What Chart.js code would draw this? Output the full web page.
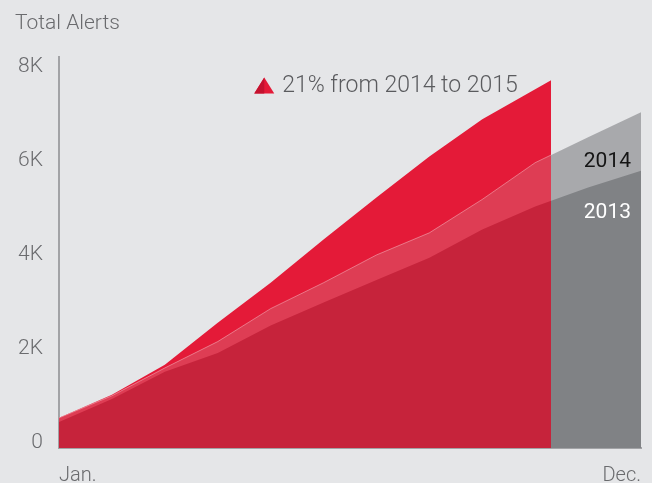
<!DOCTYPE html>
<html>
<head>
<meta charset="utf-8">
<script src="https://cdn.jsdelivr.net/npm/chart.js@4.4.1/dist/chart.umd.min.js"></script>
<style>
html, body { margin: 0; padding: 0; background: #e5e6e8; }
#wrap { width: 652px; height: 483px; position: relative; }
canvas { display: block; }
</style>
</head>
<body>
<div id="wrap"><canvas id="c" width="652" height="483"></canvas></div>
<script>
// ---- Data ----
const months = ['Jan.', 'Feb.', 'Mar.', 'Apr.', 'May', 'Jun.', 'Jul.', 'Aug.', 'Sep.', 'Oct.', 'Nov.', 'Dec.'];
const alerts2013 = [550, 1040, 1620, 2020, 2600, 3090, 3570, 4040, 4640, 5130, 5530, 5890];
const alerts2014 = [640, 1110, 1700, 2260, 2960, 3510, 4100, 4570, 5280, 6060, 6600, 7130];
// 2015 data runs to early October (month index 9.3)
const months2015 = [0, 1, 2, 3, 4, 5, 6, 7, 8, 9.3];
const alerts2015 = [640, 1130, 1770, 2660, 3510, 4430, 5320, 6190, 6980, 7810];
const yTickValues = [0, 2000, 4000, 6000, 8000];
const yTickLabels = ['0', '2K', '4K', '6K', '8K'];
const xTickValues = [0, 11];
const seriesNames = ['2013', '2014', '2015'];
const titleText = 'Total Alerts';
const noteText = '21% from 2014 to 2015';

// ---- Styles ----
const FONT = 'Roboto, "Open Sans", sans-serif';
const TEXT_GRAY = '#6a6b6e';
const AXIS_GRAY = '#a2a3a6';
const RED_2015 = '#e41a38';
const RED_2014 = '#de3d54';
const RED_2013 = '#c6233b';
const GRAY_2014 = '#a8a9ac';
const GRAY_2013 = '#808285';

const xy = (xs, ys) => ys.map((v, i) => ({ x: xs[i], y: v }));
const monthIdx = months.map((m, i) => i);
const end2015 = months2015[months2015.length - 1];

function splitColor(left, right) {
  return (context) => {
    const chart = context.chart;
    const area = chart.chartArea;
    if (!area || !chart.scales.x) return left;
    const xEnd = chart.scales.x.getPixelForValue(end2015);
    let f = (xEnd - area.left) / (area.right - area.left);
    f = Math.min(1, Math.max(0, f));
    const g = chart.ctx.createLinearGradient(area.left, 0, area.right, 0);
    g.addColorStop(0, left);
    g.addColorStop(f, left);
    g.addColorStop(f, right);
    g.addColorStop(1, right);
    return g;
  };
}

const annotations = {
  id: 'annotations',
  afterDatasetsDraw(chart) {
    const { ctx, chartArea: area, scales: { x, y } } = chart;
    ctx.save();
    // year labels at right
    ctx.font = '400 21px ' + FONT;
    ctx.textAlign = 'right';
    ctx.textBaseline = 'middle';
    ctx.fillStyle = '#151515';
    ctx.fillText(seriesNames[1], area.right - 10, y.getPixelForValue(6070));
    ctx.fillStyle = '#ffffff';
    ctx.fillText(seriesNames[0], area.right - 10, y.getPixelForValue(5000));
    // growth note with two-tone triangle
    const tx = x.getPixelForValue(3.69);
    const ty = y.getPixelForValue(7700);
    ctx.beginPath();
    ctx.moveTo(tx, ty + 8); ctx.lineTo(tx + 10, ty - 8); ctx.lineTo(tx + 20, ty + 8); ctx.closePath();
    ctx.fillStyle = RED_2015; ctx.fill();
    ctx.beginPath();
    ctx.moveTo(tx, ty + 8); ctx.lineTo(tx + 10, ty - 8); ctx.lineTo(tx + 10, ty + 8); ctx.closePath();
    ctx.fillStyle = '#c4122f'; ctx.fill();
    ctx.font = '300 23px ' + FONT;
    ctx.textAlign = 'left';
    ctx.fillStyle = '#5a5b5e';
    ctx.fillText(noteText, tx + 28, ty + 1);
    ctx.restore();
  }
};

new Chart(document.getElementById('c'), {
  type: 'line',
  data: {
    datasets: [
      {
        label: seriesNames[0],
        data: xy(monthIdx, alerts2013),
        order: 1,
        fill: 'origin',
        backgroundColor: splitColor(RED_2013, GRAY_2013),
        borderWidth: 0,
        pointRadius: 0,
        tension: 0
      },
      {
        label: seriesNames[1],
        data: xy(monthIdx, alerts2014),
        order: 2,
        fill: 'origin',
        backgroundColor: splitColor(RED_2014, GRAY_2014),
        borderColor: splitColor('rgba(255,255,255,0.35)', 'rgba(255,255,255,0)'),
        borderWidth: 1,
        pointRadius: 0,
        tension: 0
      },
      {
        label: seriesNames[2],
        data: xy(months2015, alerts2015),
        order: 3,
        fill: 'origin',
        backgroundColor: RED_2015,
        borderWidth: 0,
        pointRadius: 0,
        tension: 0
      }
    ]
  },
  options: {
    responsive: false,
    animation: false,
    devicePixelRatio: 1,
    layout: { padding: { left: 15, right: 11, top: 0, bottom: 0 } },
    plugins: {
      legend: { display: false },
      tooltip: { enabled: false },
      title: {
        display: true,
        text: titleText,
        align: 'start',
        color: TEXT_GRAY,
        font: { family: FONT, size: 21, weight: 300 },
        padding: { top: 11, bottom: 21 }
      }
    },
    scales: {
      x: {
        type: 'linear',
        min: 0,
        max: 11,
        afterBuildTicks(scale) { scale.ticks = xTickValues.map(v => ({ value: v })); },
        afterFit(scale) { scale.height = 35; scale.paddingLeft = 0; scale.paddingRight = 0; },
        ticks: {
          align: 'inner',
          padding: 16,
          maxRotation: 0,
          autoSkip: false,
          color: TEXT_GRAY,
          font: { family: FONT, size: 20, weight: 300 },
          callback: (v) => months[Math.round(v)]
        },
        grid: { display: false, drawTicks: false },
        border: { display: true, color: AXIS_GRAY, width: 2 }
      },
      y: {
        min: 0,
        max: 8300,
        afterBuildTicks(scale) { scale.ticks = yTickValues.map(v => ({ value: v })); },
        afterFit(scale) { scale.width = 44; },
        ticks: {
          padding: 16,
          labelOffset: -5,
          color: TEXT_GRAY,
          font: { family: FONT, size: 21, weight: 300 },
          callback: (v) => yTickLabels[yTickValues.indexOf(v)]
        },
        grid: { display: false, drawTicks: false },
        border: { display: true, color: AXIS_GRAY, width: 2 }
      }
    }
  },
  plugins: [annotations]
});
</script>
</body>
</html>
